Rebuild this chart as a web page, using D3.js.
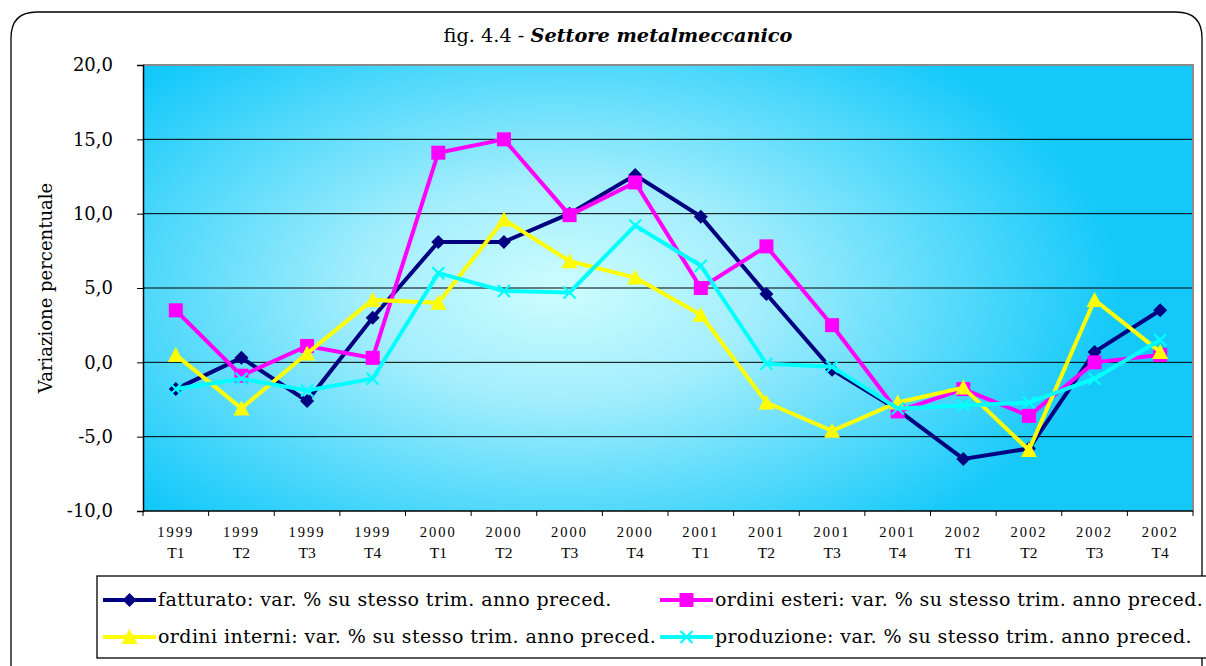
<!DOCTYPE html>
<html><head><meta charset="utf-8">
<script src="https://cdn.jsdelivr.net/npm/d3@7"></script>
<style>body{margin:0;background:#fff;}svg{display:block;}</style>
</head><body>
<svg id="c" width="1206" height="666"></svg>
<script>
const categories = ["1999 T1","1999 T2","1999 T3","1999 T4","2000 T1","2000 T2","2000 T3","2000 T4","2001 T1","2001 T2","2001 T3","2001 T4","2002 T1","2002 T2","2002 T3","2002 T4"];
const fatturato = [-1.8,0.3,-2.6,3.0,8.1,8.1,10.0,12.6,9.8,4.6,-0.5,-3.2,-6.5,-5.8,0.7,3.5];
const ordiniEsteri = [3.5,-0.9,1.1,0.3,14.1,15.0,9.9,12.1,5.0,7.8,2.5,-3.3,-1.8,-3.6,0.0,0.5];
const ordiniInterni = [0.5,-3.1,0.6,4.2,4.0,9.6,6.8,5.7,3.2,-2.7,-4.6,-2.7,-1.7,-5.9,4.2,0.7];
const produzione = [-1.8,-1.1,-1.9,-1.1,6.0,4.8,4.7,9.2,6.5,-0.1,-0.3,-3.1,-2.9,-2.7,-1.1,1.5];
const yTicks = [-10,-5,0,5,10,15,20];
const seriesNames = ["fatturato: var. % su stesso trim. anno preced.","ordini esteri: var. % su stesso trim. anno preced.","ordini interni: var. % su stesso trim. anno preced.","produzione: var. % su stesso trim. anno preced."];

const series = [
  {name: seriesNames[0], values: fatturato, color: "#000080", marker: "diamond"},
  {name: seriesNames[1], values: ordiniEsteri, color: "#ff00ff", marker: "square"},
  {name: seriesNames[2], values: ordiniInterni, color: "#ffff00", marker: "triangle"},
  {name: seriesNames[3], values: produzione, color: "#00ffff", marker: "x"}
];

const svg = d3.select("#c");
const serif = "'DejaVu Serif',serif";
const times = "'Liberation Serif',serif";
const L = 143, R = 1193, T = 65, B = 511;

// outer frame
svg.append("path")
  .attr("d", `M11,700 L11,38 Q11,12 37,12 L1176,12 Q1202,12 1202,38 L1202,700`)
  .attr("fill", "none").attr("stroke", "#000").attr("stroke-width", 1.3);

// title
const title = svg.append("text").attr("x", 618).attr("y", 42).attr("text-anchor", "middle")
  .attr("font-family", serif).attr("font-size", 19.3).attr("fill", "#000");
title.append("tspan").text("fig. 4.4 - ");
title.append("tspan").attr("font-weight", "bold").attr("font-style", "italic").text("Settore metalmeccanico");

const x = d3.scaleBand().domain(categories).range([L, R]).padding(0);
const y = d3.scaleLinear().domain([-10, 20]).range([B, T]);

// gradient background
const defs = svg.append("defs");
const g = defs.append("radialGradient").attr("id", "bg")
  .attr("gradientUnits", "userSpaceOnUse")
  .attr("cx", 560).attr("cy", 290).attr("r", 560)
  .attr("gradientTransform", "translate(560,290) scale(1,0.55) translate(-560,-290)");
g.append("stop").attr("offset", "0%").attr("stop-color", "#ccfdff");
g.append("stop").attr("offset", "35%").attr("stop-color", "#a4eefc");
g.append("stop").attr("offset", "100%").attr("stop-color", "#14c9fa");
svg.append("rect").attr("x", L).attr("y", T).attr("width", R - L).attr("height", B - T)
  .attr("fill", "url(#bg)");

// grid
svg.append("g").selectAll("line").data(yTicks.filter(d => d > -10 && d < 20)).join("line")
  .attr("x1", L).attr("x2", R).attr("y1", d => y(d)).attr("y2", d => y(d))
  .attr("stroke", "#000").attr("stroke-width", 1);

// plot border top/right gray
svg.append("path").attr("d", `M${L},${T} L${R},${T} L${R},${B}`).attr("fill", "none")
  .attr("stroke", "#8a8a8a").attr("stroke-width", 2);

// y axis
const yAxis = svg.append("g").attr("transform", `translate(${L},0)`)
  .call(d3.axisLeft(y).tickValues(yTicks).tickSize(6).tickPadding(24)
    .tickFormat(d => d3.format(".1f")(d).replace(".", ",").replace("\u2212", "-")));
yAxis.select(".domain").attr("stroke", "#000").attr("stroke-width", 1.5);
yAxis.selectAll("text").attr("font-family", serif).attr("font-size", 18).attr("fill", "#000");

// x axis
const xAxis = svg.append("g").attr("transform", `translate(0,${B})`);
xAxis.append("line").attr("x1", L).attr("x2", R).attr("y1", 0).attr("y2", 0).attr("stroke", "#000").attr("stroke-width", 1.5);
const bounds = categories.map(c => x(c)).concat([R]);
xAxis.selectAll("line.tk").data(bounds).join("line").attr("class", "tk")
  .attr("x1", d => d).attr("x2", d => d).attr("y1", 0).attr("y2", 5).attr("stroke", "#000");
const xl = xAxis.selectAll("text").data(categories).join("text")
  .attr("x", d => x(d) + x.bandwidth() / 2).attr("text-anchor", "middle")
  .attr("font-family", times).attr("fill", "#000");
xl.append("tspan").attr("x", d => x(d) + x.bandwidth() / 2).attr("y", 26).attr("font-size", 14.5).attr("letter-spacing", "2px").text(d => d.split(" ")[0]);
xl.append("tspan").attr("x", d => x(d) + x.bandwidth() / 2).attr("y", 47).attr("font-size", 15.5).text(d => d.split(" ")[1]);

// y title
svg.append("text").attr("transform", "translate(52,288) rotate(-90)").attr("text-anchor", "middle")
  .attr("font-family", serif).attr("font-size", 18).attr("fill", "#000").text("Variazione percentuale");

function drawMarker(sel, type, color) {
  if (type === "diamond") {
    sel.append("path").attr("d", "M0,-7 L7,0 L0,7 L-7,0Z").attr("fill", color);
  } else if (type === "square") {
    sel.append("rect").attr("x", -7).attr("y", -7).attr("width", 14).attr("height", 14).attr("fill", color);
  } else if (type === "triangle") {
    sel.append("path").attr("d", "M0,-8 L8,7 L-8,7Z").attr("fill", color);
  } else {
    sel.append("path").attr("d", "M-6,-6 L6,6 M-6,6 L6,-6").attr("stroke", color).attr("stroke-width", 2.2).attr("fill", "none");
  }
}

const line = d3.line().x((d, i) => x(categories[i]) + x.bandwidth() / 2).y(d => y(d));
series.forEach(s => {
  svg.append("path").datum(s.values).attr("d", line).attr("fill", "none")
    .attr("stroke", s.color).attr("stroke-width", 4).attr("stroke-linejoin", "miter");
  svg.append("g").selectAll("g").data(s.values).join("g")
    .attr("transform", (d, i) => `translate(${x(categories[i]) + x.bandwidth() / 2},${y(d)})`)
    .each(function () { drawMarker(d3.select(this), s.marker, s.color); });
});

// legend
svg.append("rect").attr("x", 97).attr("y", 576).attr("width", 1120).attr("height", 82)
  .attr("fill", "#fff").attr("stroke", "#000").attr("stroke-width", 1.3);
const legPos = [[103, 600], [660, 600], [103, 637], [660, 637]];
series.forEach((s, i) => {
  const [lx, ly] = legPos[i];
  const lg = svg.append("g").attr("transform", `translate(${lx},${ly})`);
  lg.append("line").attr("x1", 0).attr("x2", 53).attr("y1", 0).attr("y2", 0).attr("stroke", s.color).attr("stroke-width", 4);
  const m = lg.append("g").attr("transform", "translate(26.5,0)");
  drawMarker(m, s.marker, s.color);
  lg.append("text").attr("x", 55).attr("y", 6).attr("font-family", serif).attr("font-size", 19)
    .attr("letter-spacing", "0.4px").attr("fill", "#000").text(s.name);
});
</script>
</body></html>
